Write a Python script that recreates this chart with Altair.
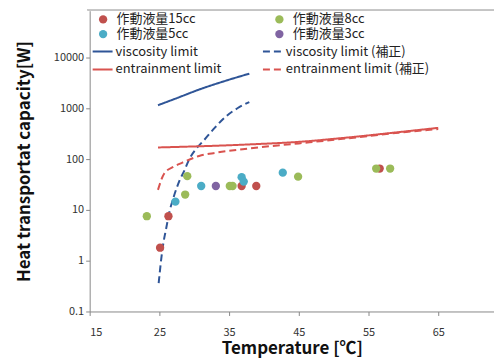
import altair as alt
import pandas as pd

# ---- measured points ----
t15 = [25.1, 26.3, 36.8, 38.9, 56.6]
q15 = [1.8, 7.5, 29.5, 29.5, 65]
t8 = [23.2, 28.7, 29.0, 35.1, 35.5, 44.9, 56.1, 58.1]
q8 = [7.5, 20, 46, 29.5, 29.5, 45, 65, 65]
t5 = [27.3, 31.0, 36.8, 37.1, 42.7]
q5 = [14.5, 29.5, 44, 36, 54]
t3 = [33.1]
q3 = [29.5]

# ---- limit curves ----
vis_t = [24.8, 27.5, 30.7, 34.3, 37.9]
vis_q = [1145, 1580, 2330, 3400, 4790]
visc_t = [24.9, 25.2, 25.5, 26.0, 26.4, 27.0, 27.9, 28.6, 29.3, 30.3, 31.4, 33.0, 34.5, 36.2, 37.9]
visc_q = [0.36, 0.9, 1.9, 4.5, 8.6, 17, 38, 60, 100, 160, 235, 420, 680, 1000, 1320]
ent_t = [24.8, 37.9, 45.0, 52.1, 59.3, 65.0]
ent_q = [169, 194, 218, 266, 338, 411]
entc_t = [24.8, 25.7, 27.0, 28.3, 30.7, 33.1, 37.9, 45.0, 52.1, 59.3, 65.0]
entc_q = [24.7, 52, 70, 85, 115, 133, 162, 203, 256, 330, 390]

# legend entries are filled column by column
pt_names = ["作動液量15cc", "作動液量5cc", "作動液量8cc", "作動液量3cc"]
pt_colors = ["#C0504D", "#4BACC6", "#9BBB59", "#8064A2"]
pt_series = ["作動液量15cc", "作動液量8cc", "作動液量5cc", "作動液量3cc"]  # drawing order
ln_names = ["viscosity limit", "entrainment limit", "viscosity limit (補正)", "entrainment limit (補正)"]
ln_colors = ["#2F5597", "#D9534F", "#2F5597", "#D9534F"]
ln_dash = [[1, 0], [1, 0], [7, 4], [7, 4]]
ln_series = ["viscosity limit", "viscosity limit (補正)", "entrainment limit", "entrainment limit (補正)"]

x_ticks = [15, 25, 35, 45, 55, 65]
y_ticks = [0.1, 1, 10, 100, 1000, 10000]

rows = []
for name, ts, qs in zip(pt_series, [t15, t8, t5, t3], [q15, q8, q5, q3]):
    for t, q in zip(ts, qs):
        rows.append({"series": name, "T": t, "Q": q})
pts = pd.DataFrame(rows)

lrows = []
for name, ts, qs in zip(ln_series, [vis_t, visc_t, ent_t, entc_t], [vis_q, visc_q, ent_q, entc_q]):
    for i, (t, q) in enumerate(zip(ts, qs)):
        lrows.append({"line": name, "T": t, "Q": q, "i": i})
lines = pd.DataFrame(lrows)

FONT = "Noto Sans CJK JP"

xenc = alt.X("T:Q", scale=alt.Scale(domain=[15, 73], nice=False, zero=False),
             axis=alt.Axis(values=x_ticks, title="Temperature [℃]", grid=False,
                           labelPadding=11, titlePadding=3))
yenc = alt.Y("Q:Q", scale=alt.Scale(type="log", domain=[0.1, 83000], nice=False),
             axis=alt.Axis(values=y_ticks, title="Heat transportat capacity[W]", grid=False,
                           titlePadding=20, labelExpr="format(datum.value, '~g')"))

line_legend = alt.Legend(orient="none", legendX=2, legendY=30, columns=2,
                         columnPadding=37, rowPadding=-3.4, symbolType="stroke",
                         symbolSize=400, symbolStrokeWidth=2, labelOffset=2,
                         title=None, padding=0)

line_layer = alt.Chart(lines).mark_line(strokeWidth=2, interpolate="monotone").encode(
    x=xenc, y=yenc,
    order="i:Q",
    color=alt.Color("line:N", scale=alt.Scale(domain=ln_names, range=ln_colors), legend=line_legend),
    strokeDash=alt.StrokeDash("line:N", scale=alt.Scale(domain=ln_names, range=ln_dash), legend=line_legend),
)

point_layer = alt.Chart(pts).mark_circle(size=70, opacity=1).encode(
    x=xenc, y=yenc,
    color=alt.Color("series:N", scale=alt.Scale(domain=pt_names, range=pt_colors),
                    legend=alt.Legend(orient="none", legendX=7, legendY=2, columns=2,
                                      columnPadding=77, rowPadding=1, symbolSize=70,
                                      labelOffset=7, title=None, padding=0)),
)

top_border = alt.Chart(pts).mark_rule(color="#C8C8C8", strokeWidth=1).encode(
    x=alt.value(-2), x2=alt.value(420), y=alt.value(-1)
)

chart = alt.layer(top_border, line_layer, point_layer).resolve_scale(
    color="independent", strokeDash="independent"
).properties(
    width=406, height=302,
    autosize=alt.AutoSizeParams(type="none"),
    padding={"left": 82, "top": 2, "right": 0, "bottom": 48},
).configure_view(stroke=None).configure_axis(
    domainColor="#888888", tickColor="#888888", tickSize=4,
    labelFont=FONT, labelFontSize=11, labelColor="#333333",
    titleFont=FONT, titleFontSize=17, titleFontWeight="bold", titleColor="#111111",
).configure_legend(
    labelFont=FONT, labelFontSize=13, labelColor="#222222", labelLimit=300,
)

chart.save("out.html", embed_options={"renderer": "svg", "actions": False})
